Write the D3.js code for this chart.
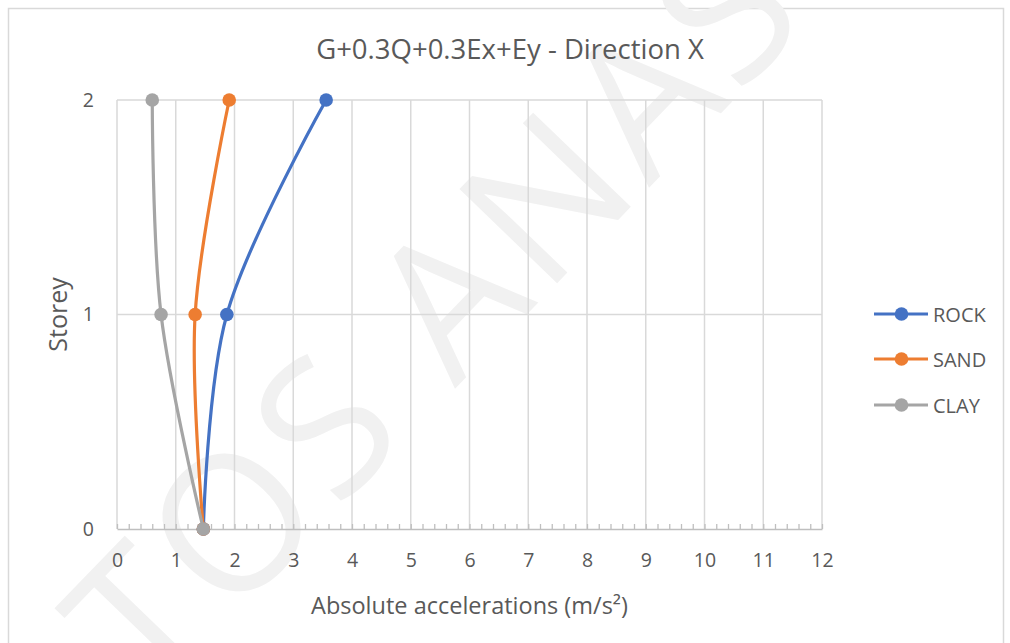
<!DOCTYPE html>
<html><head><meta charset="utf-8">
<script src="https://cdn.jsdelivr.net/npm/d3@7"></script>
<style>body{margin:0;background:#fff}text{font-family:"Open Sans",sans-serif}</style>
</head><body>
<script>
const storeys = [0, 1, 2];
const seriesNames = ["ROCK", "SAND", "CLAY"];
const rockValues = [1.47, 1.87, 3.56];
const sandValues = [1.47, 1.33, 1.91];
const clayValues = [1.47, 0.75, 0.60];
const xTicks = [0,1,2,3,4,5,6,7,8,9,10,11,12];
const colors = ["#4472C4", "#ED7D31", "#A5A5A5"];
const allValues = [rockValues, sandValues, clayValues];

const W = 1010, H = 643;
const svg = d3.select("body").append("svg").attr("width", W).attr("height", H);
svg.append("rect").attr("x", 8.5).attr("y", 8.5).attr("width", 995).attr("height", 640)
  .attr("fill", "#fff").attr("stroke", "#d9d9d9").attr("stroke-width", 1.5);

// watermark
svg.append("text").attr("transform", "translate(227,527) rotate(-46)")
  .attr("x", -180).attr("y", 68)
  .attr("font-size", 190).attr("fill", "#f1f1f1")
  .attr("letter-spacing", 8).text("TOS ANASTA");

const x = d3.scaleLinear().domain([0, 12]).range([117, 822]);
const y = d3.scaleLinear().domain([0, 2]).range([529, 100]);

const g = svg.append("g");
g.selectAll(".vg").data(xTicks.slice(1)).join("line")
  .attr("x1", d => x(d)).attr("x2", d => x(d))
  .attr("y1", y(2)).attr("y2", y(0)).attr("stroke", "#d9d9d9").attr("stroke-width", 1.5);
g.selectAll(".hg").data(storeys.slice(1)).join("line")
  .attr("x1", x(0)).attr("x2", x(12)).attr("y1", d => y(d)).attr("y2", d => y(d))
  .attr("stroke", "#d9d9d9").attr("stroke-width", 1.5);
g.append("line").attr("x1", x(0)).attr("x2", x(0)).attr("y1", y(2)).attr("y2", y(0))
  .attr("stroke", "#d9d9d9").attr("stroke-width", 1.5);

// x axis with minor ticks inside
const xAxisG = svg.append("g").attr("transform", `translate(0,${y(0)})`);
xAxisG.call(d3.axisBottom(x).tickValues(d3.range(0, 12.01, 0.2)).tickSize(-5).tickSizeOuter(0).tickFormat(""));
xAxisG.select(".domain").attr("stroke", "#bfbfbf").attr("stroke-width", 1.5);
xAxisG.selectAll(".tick line").attr("stroke", "#bfbfbf").attr("stroke-width", 1.3);

const xLab = svg.append("g").attr("transform", `translate(0,${y(0)})`);
xLab.call(d3.axisBottom(x).tickValues(xTicks).tickSize(0).tickFormat(d3.format("d")));
xLab.select(".domain").remove();
xLab.selectAll("text").attr("y", 38).attr("dy", 0).attr("font-size", 19.5)
  .attr("fill", "#595959").attr("font-family", "Open Sans");

const yLab = svg.append("g").attr("transform", `translate(94,0)`);
yLab.call(d3.axisLeft(y).tickValues(storeys).tickSize(0).tickPadding(0).tickFormat(d3.format("d")));
yLab.select(".domain").remove();
yLab.selectAll("text").attr("font-size", 19.5).attr("fill", "#595959").attr("font-family", "Open Sans");

// titles
svg.append("text").attr("x", 510).attr("y", 59).attr("text-anchor", "middle")
  .attr("font-size", 27.5).attr("fill", "#595959").text("G+0.3Q+0.3Ex+Ey - Direction X");
svg.append("text").attr("x", 469.5).attr("y", 614).attr("text-anchor", "middle")
  .attr("font-size", 23.5).attr("fill", "#595959").text("Absolute accelerations (m/s²)");
svg.append("text").attr("transform", `translate(67,${y(1)}) rotate(-90)`).attr("text-anchor", "middle")
  .attr("font-size", 25).attr("fill", "#595959").text("Storey");

// series
const line = d3.line().x(d => x(d.v)).y(d => y(d.s)).curve(d3.curveCatmullRom.alpha(0.5));
allValues.forEach((vals, i) => {
  const pts = storeys.map((s, k) => ({ s, v: vals[k] }));
  svg.append("path").datum(pts).attr("d", line).attr("fill", "none")
    .attr("stroke", colors[i]).attr("stroke-width", 3.2).attr("stroke-linecap", "round");
  svg.selectAll(null).data(pts).join("circle")
    .attr("cx", d => x(d.v)).attr("cy", d => y(d.s)).attr("r", 6.8).attr("fill", colors[i]);
});

// legend
const legY = [314, 359, 405];
seriesNames.forEach((n, i) => {
  const lg = svg.append("g").attr("transform", `translate(0,${legY[i]})`);
  lg.append("line").attr("x1", 874).attr("x2", 928).attr("y1", 0).attr("y2", 0)
    .attr("stroke", colors[i]).attr("stroke-width", 3.2);
  lg.append("circle").attr("cx", 901.5).attr("cy", 0).attr("r", 6.8).attr("fill", colors[i]);
  lg.append("text").attr("x", 933).attr("y", 7.5).attr("font-size", 20).attr("fill", "#595959").text(n);
});
</script>
</body></html>
